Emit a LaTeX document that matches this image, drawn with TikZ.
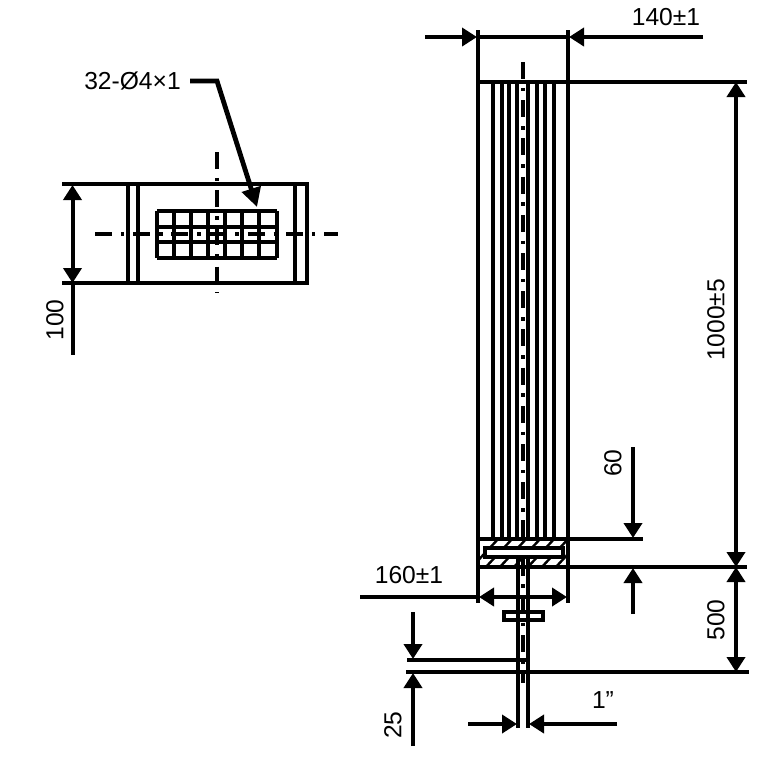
\documentclass[tikz,border=0pt]{standalone}
\usepackage{fontspec}
\setmainfont{Liberation Sans}
\usetikzlibrary{arrows.meta}
\begin{document}
\begin{tikzpicture}[
  x = 0.5pt,
  y = -0.5pt,
  line/.style = {
    line width = 2pt
  },
  centre/.style = {
    line width = 2pt,
    dash pattern = on 8.5pt off 4.4pt on 1.8pt off 4.4pt
  },
  thin line/.style = {
    line width = 1.8pt
  },
  hatch/.style = {
    line width = 1.2pt
  },
  tip/.tip = {Triangle[length = 7.5pt, width = 9pt]},
  leader/.style = {
    line width = 2.4pt,
    -{Triangle[length = 9.5pt, width = 9.5pt]}
  },
  label/.style = {
    inner sep = 0pt,
    font = \fontsize{12.3}{14}\selectfont
  }
]
  \useasboundingbox (0, 0) rectangle (766, 757);

  % end view
  \draw[line] (62, 184) -- (307, 184) -- (307, 283) -- (62, 283);
  \foreach \x in {128, 138, 295} {
    \draw[line] (\x, 184) -- (\x, 283);
  }
  \foreach \x in {157, 174, 191, 208, 225, 242, 259, 277} {
    \draw[line] (\x, 211) -- (\x, 258);
  }
  \foreach \y in {211, 227, 242, 258} {
    \draw[line] (157, \y) -- (277, \y);
  }
  \draw[centre] (95, 234) -- (338, 234);
  \draw[centre] (217, 152) -- (217, 293);

  \node[label] (holes) at (132.5, 81) {32-Ø4×1};
  \coordinate (holes start) at (190, 81);
  \coordinate (holes bend) at (217, 81);
  \coordinate (holes tip) at (257, 207);
  \draw[leader] (holes start) -- (holes bend) -- (holes tip);

  \coordinate (h top) at (72.5, 185);
  \coordinate (h bot) at (72.5, 283);
  \coordinate (h end) at (72.5, 355);
  \draw[line, {tip}-{tip}] (h top) -- (h bot);
  \draw[line] (h bot) -- (h end);
  \node[label, rotate = 90] (h label) at (55, 320) {100};

  % side view
  \foreach \x in {493, 502, 509, 517, 528, 537, 545, 554} {
    \draw[line] (\x, 82) -- (\x, 539);
  }

  % base with hatching
  \begin{scope}
    \clip (478, 539) rectangle (568, 567);
    \foreach \x in {470, 484, ..., 582} {
      \draw[hatch] (\x, 569) -- (\x + 30, 537);
    }
  \end{scope}
  \draw[line, fill = white] (485, 548) rectangle (563, 557);

  % tube and flange
  \draw[line] (518, 557) -- (518, 728);
  \draw[line] (528, 557) -- (528, 728);
  \draw[thin line, fill = white] (504, 612) rectangle (543, 620);
  \draw[line] (518, 612) -- (518, 620);
  \draw[line] (528, 612) -- (528, 620);

  \draw[line] (478, 30) -- (478, 603);
  \draw[line] (568, 30) -- (568, 603);
  \draw[centre] (523, 62) -- (523, 683);

  % extension lines
  \draw[thin line] (478, 82) -- (747, 82);
  \draw[thin line] (478, 539) -- (643, 539);
  \draw[thin line] (478, 567) -- (747, 567);
  \draw[thin line] (407, 660) -- (528, 660);
  \draw[thin line] (406, 672) -- (749, 672);

  % 140
  \coordinate (w start) at (425, 37);
  \coordinate (w left) at (477, 37);
  \coordinate (w right) at (569, 37);
  \coordinate (w end) at (703, 37);
  \draw[line, -{tip}] (w start) -- (w left);
  \draw[line] (w left) -- (w right);
  \draw[line, -{tip}] (w end) -- (w right);
  \node[label] (w label) at (666, 17) {140±1};

  % 1000 and 500
  \coordinate (len top) at (736, 82);
  \coordinate (len mid) at (736, 567);
  \coordinate (len bot) at (736, 672);
  \draw[line, {tip}-{tip}] (len top) -- (len mid);
  \draw[line, {tip}-{tip}] (len mid) -- (len bot);
  \node[label, rotate = 90] (len label) at (716, 320) {1000±5};
  \node[label, rotate = 90] (low label) at (716, 620) {500};

  % 60
  \coordinate (base start) at (633, 447);
  \coordinate (base top) at (633, 538);
  \coordinate (base bot) at (633, 568);
  \coordinate (base end) at (633, 614);
  \draw[line, -{tip}] (base start) -- (base top);
  \draw[line, -{tip}] (base end) -- (base bot);
  \node[label, rotate = 90] (base label) at (613, 463) {60};

  % 160
  \coordinate (d start) at (360, 597);
  \coordinate (d left) at (479, 597);
  \coordinate (d right) at (567, 597);
  \draw[line] (d start) -- (d left);
  \draw[line, {tip}-{tip}] (d left) -- (d right);
  \node[label] (d label) at (409, 575) {160±1};

  % 25
  \coordinate (g start) at (413, 612);
  \coordinate (g top) at (413, 659);
  \coordinate (g bot) at (413, 673);
  \coordinate (g end) at (413, 746);
  \draw[line, -{tip}] (g start) -- (g top);
  \draw[line, -{tip}] (g end) -- (g bot);
  \node[label, rotate = 90] (g label) at (393, 725) {25};

  % 1 inch
  \coordinate (t start) at (468, 724);
  \coordinate (t left) at (517, 724);
  \coordinate (t right) at (529, 724);
  \coordinate (t end) at (617, 724);
  \draw[line, -{tip}] (t start) -- (t left);
  \draw[line, -{tip}] (t end) -- (t right);
  \node[label] (t label) at (603, 700) {1”};
\end{tikzpicture}
\end{document}
